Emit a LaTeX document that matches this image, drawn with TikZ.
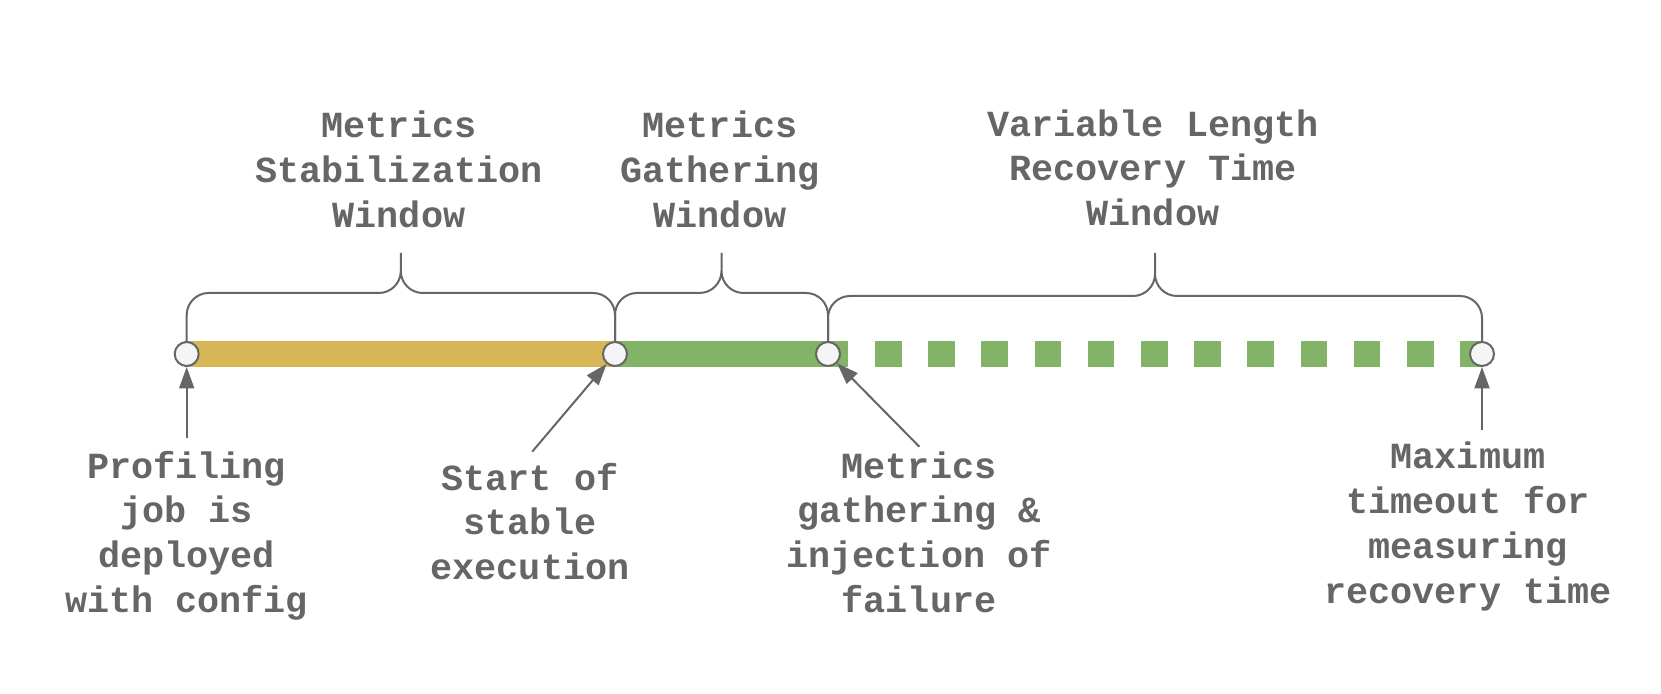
\documentclass[tikz,border=0pt]{standalone}
\usepackage{fontspec}
\setmonofont{Liberation Mono}
\usepackage{tikz}
\usepackage{xcolor}
\usetikzlibrary{arrows.meta,calc,positioning}
\definecolor{tlYellow}{HTML}{D6B656}
\definecolor{tlGreen}{HTML}{82B366}
\definecolor{tlLine}{HTML}{666666}
\definecolor{tlDotFill}{HTML}{F5F5F5}
\tikzset{
  tlbar/.style={line width=13.35pt, line cap=butt},
  tldot/.style={
    circle, draw=tlLine, fill=tlDotFill, line width=1pt,
    minimum size=12pt, inner sep=0pt
  },
  tlbrace/.style={draw=tlLine, line width=1pt, rounded corners=11pt},
  tlarrow/.style={-{Triangle[length=10.75pt,width=7.5pt]}, line width=1pt, draw=tlLine, fill=tlLine},
  tllabel/.style={
    anchor=north, align=center, inner sep=0pt, text=tlLine,
    font=\ttfamily\bfseries\fontsize{18.4}{22.4}\selectfont
  }
}
\begin{document}
\begin{tikzpicture}[x=0.5pt,y=-0.5pt]
  \useasboundingbox (0,0) rectangle (1661,694);
  \coordinate (p1) at (186.7,354);
  \coordinate (p2) at (615,354);
  \coordinate (p3) at (828,354);
  \coordinate (p4) at (1482,354);

  % timeline bars
  \draw[tlbar, draw=tlYellow] (183.5,354) -- (p2);
  \draw[tlbar, draw=tlGreen] (p2) -- (848,354);
  \draw[tlbar, draw=tlGreen, dash pattern=on 13.3pt off 13.3pt] (875,354) -- (p4);

  % braces
  \draw[tlbrace] (p1) |- (400.8,293) -- (400.8,253)
                 (p2) |- (400.8,293) -- (400.8,253);
  \draw[tlbrace] (p2) |- (721.5,293) -- (721.5,253)
                 (p3) |- (721.5,293) -- (721.5,253);
  \draw[tlbrace] (p3) |- (1155,296) -- (1155,253)
                 (p4) |- (1155,296) -- (1155,253);

  \node[tldot] (c1) at (p1) {};
  \node[tldot] (c2) at (p2) {};
  \node[tldot] (c3) at (p3) {};
  \node[tldot] (c4) at (p4) {};

  \node[tllabel] (stabLbl) at (399,110.5) {Metrics\\Stabilization\\Window};
  \node[tllabel] (gathLbl) at (720,110.5) {Metrics\\Gathering\\Window};
  \node[tllabel] (recLbl) at (1153,109) {Variable Length\\Recovery Time\\Window};

  \node[tllabel] (deployLbl) at (186.5,450.5) {Profiling\\job is\\deployed\\with config};
  \node[tllabel] (stableLbl) at (530,462.5) {Start of\\stable\\execution};
  \node[tllabel] (failLbl) at (919,451) {Metrics\\gathering \&\\injection of\\failure};
  \node[tllabel] (timeoutLbl) at (1468,441.7) {Maximum\\timeout for\\measuring\\recovery time};

  \coordinate (deployTail) at (186.7,438);
  \coordinate (stableTail) at (532.2,451.7);
  \coordinate (failTail) at (919.3,446.7);
  \coordinate (timeoutTail) at (1482,430);

  \draw[tlarrow] (deployTail) -- (c1);
  \draw[tlarrow] (stableTail) -- (c2);
  \draw[tlarrow] (failTail) -- (c3);
  \draw[tlarrow] (timeoutTail) -- (c4);
\end{tikzpicture}
\end{document}
